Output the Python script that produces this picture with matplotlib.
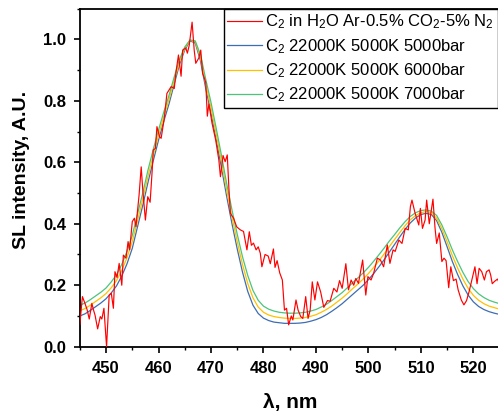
import matplotlib
matplotlib.use("Agg")
import matplotlib.pyplot as plt
from matplotlib.ticker import MultipleLocator

plt.rcParams['font.family'] = ['Liberation Sans', 'DejaVu Sans']
plt.rcParams['mathtext.fontset'] = 'custom'
plt.rcParams['mathtext.rm'] = 'Liberation Sans'
plt.rcParams['mathtext.it'] = 'Liberation Sans:italic'
plt.rcParams['mathtext.bf'] = 'Liberation Sans:bold'

# ---------------- data ----------------
red_wl = [445.0, 445.5, 446.0, 446.4, 446.8, 447.3, 447.6, 447.9, 448.4, 448.9, 449.2, 449.6,
          450.1, 450.6, 451.0, 451.4, 451.7, 452.1, 452.5, 453.0, 453.3, 453.8, 454.2, 454.5,
          455.0, 455.4, 455.7, 456.3, 456.7, 457.0, 457.5, 457.95, 458.4, 458.8, 459.0, 459.4,
          459.7, 460.2, 460.5, 461.1, 461.6, 462.0, 462.4, 463.0, 463.3, 463.8, 464.3, 464.6,
          465.2, 465.5, 465.85, 466.4, 466.8, 467.1, 467.7, 468.05, 468.4, 469.0, 469.3, 469.6,
          470.2, 470.9, 471.5, 471.8, 472.3, 472.7, 473.1, 473.4, 473.7, 474.3, 474.9, 475.6,
          476.2, 476.85, 477.3, 477.7, 478.1, 478.6, 479.0, 479.4, 479.7, 480.3, 480.9, 481.3,
          481.9, 482.2, 482.6, 483.1, 483.6, 484.0, 484.4, 484.8, 485.3, 485.6, 486.2, 486.6,
          487.1, 487.5, 488.05, 488.5, 488.9, 489.3, 489.8, 490.3, 490.9, 491.5, 492.2, 492.7,
          493.4, 494.0, 494.5, 495.0, 495.7, 496.2, 496.7, 497.2, 497.6, 498.1, 498.9, 499.5,
          499.9, 500.5, 501.0, 501.7, 502.3, 502.9, 503.6, 504.1, 504.7, 505.1, 505.8, 506.4,
          507.0, 507.6, 508.0, 508.3, 508.9, 509.6, 509.9, 510.3, 510.8, 511.1, 511.6, 512.3,
          512.7, 513.0, 513.5, 514.0, 514.4, 514.8, 515.3, 515.7, 516.2, 516.7, 517.1, 517.7,
          518.2, 518.7, 519.2, 519.7, 520.3, 520.7, 521.1, 521.6, 522.1, 522.5, 523.0, 523.3,
          523.6, 524.0, 524.6, 525.0]
red_int = [0.072, 0.163, 0.140, 0.120, 0.090, 0.141, 0.120, 0.103, 0.058, 0.098, 0.090, 0.125,
           0.000, 0.168, 0.174, 0.125, 0.244, 0.225, 0.271, 0.200, 0.298, 0.288, 0.342, 0.315,
           0.407, 0.418, 0.390, 0.494, 0.585, 0.510, 0.412, 0.488, 0.470, 0.575, 0.640, 0.645,
           0.716, 0.683, 0.678, 0.743, 0.824, 0.835, 0.846, 0.840, 0.890, 0.949, 0.880, 0.965,
           0.972, 0.955, 0.980, 1.056, 0.965, 0.922, 0.940, 0.965, 0.890, 0.860, 0.750, 0.790,
           0.727, 0.672, 0.607, 0.553, 0.622, 0.602, 0.624, 0.520, 0.434, 0.418, 0.390, 0.380,
           0.375, 0.315, 0.374, 0.330, 0.337, 0.315, 0.325, 0.304, 0.260, 0.300, 0.295, 0.270,
           0.318, 0.258, 0.280, 0.240, 0.217, 0.119, 0.125, 0.071, 0.100, 0.087, 0.152, 0.119,
           0.098, 0.092, 0.163, 0.092, 0.119, 0.211, 0.152, 0.211, 0.178, 0.128, 0.150, 0.148,
           0.190, 0.178, 0.215, 0.190, 0.270, 0.185, 0.217, 0.200, 0.222, 0.206, 0.282, 0.168,
           0.228, 0.217, 0.239, 0.288, 0.282, 0.260, 0.331, 0.271, 0.315, 0.310, 0.347, 0.336,
           0.385, 0.380, 0.456, 0.477, 0.434, 0.396, 0.450, 0.385, 0.412, 0.477, 0.400, 0.480,
           0.385, 0.336, 0.370, 0.277, 0.288, 0.280, 0.192, 0.260, 0.215, 0.220, 0.185, 0.152,
           0.136, 0.150, 0.180, 0.217, 0.260, 0.205, 0.255, 0.244, 0.217, 0.244, 0.250, 0.233,
           0.205, 0.212, 0.220, 0.205]

model_wl = [445, 446, 447, 448, 449, 450, 451, 452, 453, 454, 455, 456, 457, 458, 459, 460,
            461, 462, 463, 464, 465, 466, 467, 468, 469, 470, 471, 472, 473, 474, 475, 476,
            477, 478, 479, 480, 481, 482, 483, 484, 485, 486, 487, 488, 489, 490, 491, 492,
            493, 494, 495, 496, 497, 498, 499, 500, 501, 502, 503, 504, 505, 506, 507, 508,
            509, 510, 511, 512, 513, 514, 515, 516, 517, 518, 519, 520, 521, 522, 523, 524, 525]

model_5000bar = [0.100, 0.107, 0.118, 0.130, 0.142, 0.156, 0.175, 0.198, 0.230, 0.270, 0.320,
                 0.390, 0.460, 0.535, 0.605, 0.672, 0.733, 0.790, 0.855, 0.918, 0.965, 0.995,
                 0.988, 0.930, 0.840, 0.760, 0.672, 0.582, 0.488, 0.400, 0.318, 0.243, 0.180,
                 0.135, 0.108, 0.093, 0.085, 0.080, 0.078, 0.076, 0.076, 0.076, 0.077, 0.079,
                 0.083, 0.088, 0.095, 0.104, 0.115, 0.127, 0.140, 0.155, 0.170, 0.185, 0.200,
                 0.218, 0.238, 0.260, 0.283, 0.308, 0.333, 0.358, 0.382, 0.403, 0.419, 0.430,
                 0.434, 0.430, 0.410, 0.372, 0.325, 0.277, 0.235, 0.198, 0.168, 0.146, 0.131,
                 0.121, 0.114, 0.109, 0.105]

model_6000bar = [0.117, 0.124, 0.135, 0.147, 0.159, 0.173, 0.192, 0.215, 0.248, 0.290, 0.342,
                 0.410, 0.480, 0.555, 0.623, 0.688, 0.748, 0.804, 0.866, 0.926, 0.970, 0.997,
                 0.992, 0.940, 0.855, 0.777, 0.691, 0.602, 0.509, 0.422, 0.342, 0.268, 0.206,
                 0.159, 0.129, 0.112, 0.103, 0.098, 0.095, 0.093, 0.092, 0.092, 0.093, 0.095,
                 0.099, 0.104, 0.112, 0.121, 0.132, 0.145, 0.158, 0.173, 0.189, 0.204, 0.220,
                 0.238, 0.258, 0.279, 0.302, 0.326, 0.349, 0.372, 0.394, 0.413, 0.427, 0.436,
                 0.440, 0.436, 0.418, 0.384, 0.341, 0.296, 0.256, 0.220, 0.190, 0.167, 0.151,
                 0.140, 0.132, 0.127, 0.122]

model_7000bar = [0.135, 0.142, 0.153, 0.165, 0.177, 0.191, 0.211, 0.234, 0.268, 0.310, 0.362,
                 0.432, 0.500, 0.575, 0.642, 0.705, 0.763, 0.818, 0.878, 0.935, 0.975, 0.998,
                 0.995, 0.950, 0.870, 0.795, 0.710, 0.622, 0.530, 0.445, 0.366, 0.293, 0.232,
                 0.183, 0.151, 0.132, 0.122, 0.116, 0.112, 0.110, 0.109, 0.109, 0.110, 0.112,
                 0.116, 0.121, 0.129, 0.138, 0.150, 0.163, 0.176, 0.192, 0.208, 0.224, 0.240,
                 0.258, 0.278, 0.299, 0.321, 0.344, 0.365, 0.387, 0.407, 0.424, 0.436, 0.443,
                 0.445, 0.441, 0.427, 0.396, 0.357, 0.315, 0.277, 0.242, 0.212, 0.189, 0.172,
                 0.160, 0.151, 0.145, 0.140]

labels = [r'C$_\mathregular{2}$ in H$_\mathregular{2}$O Ar-0.5% CO$_\mathregular{2}$-5% N$_\mathregular{2}$',
          r'C$_\mathregular{2}$ 22000K 5000K 5000bar',
          r'C$_\mathregular{2}$ 22000K 5000K 6000bar',
          r'C$_\mathregular{2}$ 22000K 5000K 7000bar']
colors = ['#FF0000', '#3D6DB5', '#FFC000', '#4CC47A']

x_ticks = [450, 460, 470, 480, 490, 500, 510, 520]
y_ticks = [0.0, 0.2, 0.4, 0.6, 0.8, 1.0]

# ---------------- figure ----------------
W, H = 498, 416
fig = plt.figure(figsize=(W / 100, H / 100), dpi=100)
ax = fig.add_axes([79.8 / W, (H - 346.7) / H, 419.8 / W, 338.1 / H])

ax.plot(model_wl, model_5000bar, color=colors[1], lw=0.9, label=labels[1], zorder=2)
ax.plot(model_wl, model_6000bar, color=colors[2], lw=0.9, label=labels[2], zorder=2)
ax.plot(model_wl, model_7000bar, color=colors[3], lw=0.9, label=labels[3], zorder=2)
ax.plot(red_wl, red_int, color=colors[0], lw=0.85, label=labels[0], zorder=3)

ax.set_xlim(445, 525)
ax.set_ylim(0, 1.1)
ax.set_xticks(x_ticks)
ax.set_yticks(y_ticks)
ax.set_yticklabels([f'{v:.1f}' for v in y_ticks])
ax.xaxis.set_minor_locator(MultipleLocator(5))
ax.yaxis.set_minor_locator(MultipleLocator(0.1))
ax.tick_params(which='major', direction='out', length=4, width=1.2, pad=6,
               labelsize=12, top=False, right=False)
ax.tick_params(which='minor', direction='out', length=2.5, width=1.0, top=False, right=False)
for lab in ax.get_xticklabels() + ax.get_yticklabels():
    lab.set_fontweight('bold')
for s in ['left', 'bottom', 'top']:
    ax.spines[s].set_linewidth(1.3)
ax.spines['right'].set_visible(False)

ax.set_xlabel('λ, nm', fontsize=15, fontweight='bold', labelpad=12.5)
ax.set_ylabel('SL intensity, A.U.', fontsize=14, fontweight='bold')
ax.yaxis.set_label_coords(-0.118, 0.523)

handles, labs = ax.get_legend_handles_labels()
order = [3, 0, 1, 2]
leg = ax.legend([handles[i] for i in order], [labs[i] for i in order],
                loc='upper right', bbox_to_anchor=(0.995, 0.998), fontsize=12,
                frameon=True, fancybox=False, edgecolor='black', framealpha=1,
                borderpad=0.2, labelspacing=0.34, handlelength=2.05, handletextpad=0.22,
                borderaxespad=0.0)
leg.get_frame().set_linewidth(1.0)

fig.savefig('out.png', dpi=100)
